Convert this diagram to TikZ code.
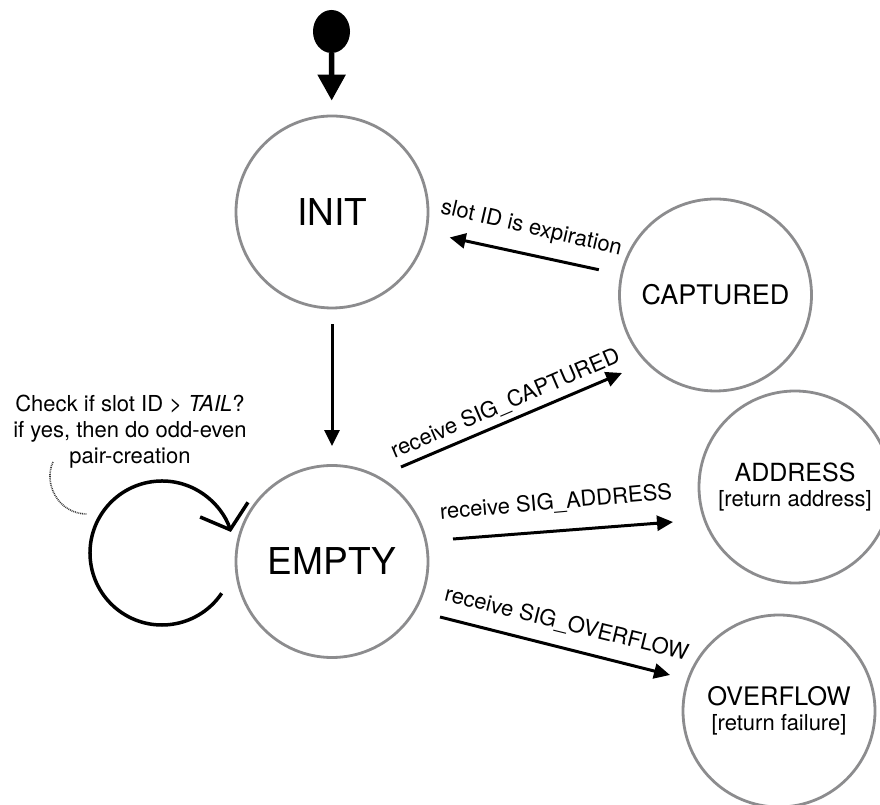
\documentclass[tikz,border=0pt]{standalone}
\usepackage{fontspec}
\setmainfont{TeX Gyre Heros}
\usetikzlibrary{arrows.meta,calc,shapes.geometric}
\definecolor{stategray}{HTML}{8C8C8E}
\definecolor{notegray}{HTML}{3A3A3A}
\begin{document}
\begin{tikzpicture}[x=1pt,y=1pt,
  state/.style={circle, draw=stategray, line width=2.8pt, minimum size=192pt, inner sep=0pt, align=center},
  edge/.style={line width=3pt, -{Triangle[length=16pt,width=15pt]}},
  elabel/.style={font=\fontsize{22}{25}\selectfont, anchor=base, inner sep=0pt}
]
\useasboundingbox (0,0) rectangle (880,805);
\clip (0,0) rectangle (880,805);

% initial pseudo-state
\node[ellipse, fill=black, minimum width=37pt, minimum height=43pt, inner sep=0pt] (start) at (331.5,773.5) {};

% states
\node[state, font=\fontsize{37}{40}\selectfont] (init) at (332,593) {INIT};
\node[state, font=\fontsize{27}{30}\selectfont] (cap) at (715.5,510) {CAPTURED};
\node[state, font=\fontsize{37}{40}\selectfont] (empty) at (332,243.5) {EMPTY};
\node[state, font=\fontsize{25}{25}\selectfont] (addr) at (795,318) {ADDRESS\\{\fontsize{22}{25}\selectfont [return address]}};
\node[state, font=\fontsize{25.5}{25}\selectfont] (ovf) at (779,94) {OVERFLOW\\{\fontsize{22}{25}\selectfont [return failure]}};

% initial arrow
\draw[line width=5.5pt, -{Triangle[length=26pt,width=27pt]}, shorten >=14pt] (start) -- (init);

% INIT -> EMPTY
\draw[edge, shorten <=15pt, shorten >=18pt] (init) -- (empty);

% CAPTURED -> INIT
\draw[edge, shorten <=22pt, shorten >=23pt] (cap) -- (init);
\node[elabel, rotate=-13] (lexp) at (530,571) {slot ID is expiration};

% EMPTY -> CAPTURED
\coordinate (e1) at ($(empty)+(69,94.5)$);
\coordinate (c1) at ($(cap)+(-93.5,-78)$);
\draw[edge] (e1) -- (c1);
\node[elabel, rotate=23.3] (lcap) at (508,395) {receive SIG\_CAPTURED};

% EMPTY -> ADDRESS
\coordinate (e2) at ($(empty)+(121,22.5)$);
\coordinate (a1) at ($(addr)+(-122,-35)$);
\draw[edge] (e2) -- (a1);
\node[elabel, rotate=5] (laddr) at (556.5,296) {receive SIG\_ADDRESS};

% EMPTY -> OVERFLOW
\coordinate (e3) at ($(empty)+(108,-55.5)$);
\coordinate (o1) at ($(ovf)+(-109,36)$);
\draw[edge] (e3) -- (o1);
\node[elabel, rotate=-13.8] (lovf) at (565,174.5) {receive SIG\_OVERFLOW};

% self loop on EMPTY
\coordinate (lc) at ($(empty)+(-170,8.5)$);
\draw[line width=3.5pt, -{Straight Barb[length=21pt,width=50pt]}]
  ($(lc)+(-34:72)$) arc[start angle=-34, end angle=-343, radius=72pt];

% note
\node[font=\fontsize{22}{26}\selectfont, align=center, inner sep=0pt] (note) at (130,373.5)
  {Check if slot ID > \textit{TAIL}?\\if yes, then do odd-even\\pair-creation};
\coordinate (n1) at (53,343);
\coordinate (n2) at (87,291);
\draw[notegray, line width=1.6pt, dash pattern=on 0.9pt off 0.9pt] (n1) .. controls (43,322) and (58,291) .. (n2);
\end{tikzpicture}
\end{document}
